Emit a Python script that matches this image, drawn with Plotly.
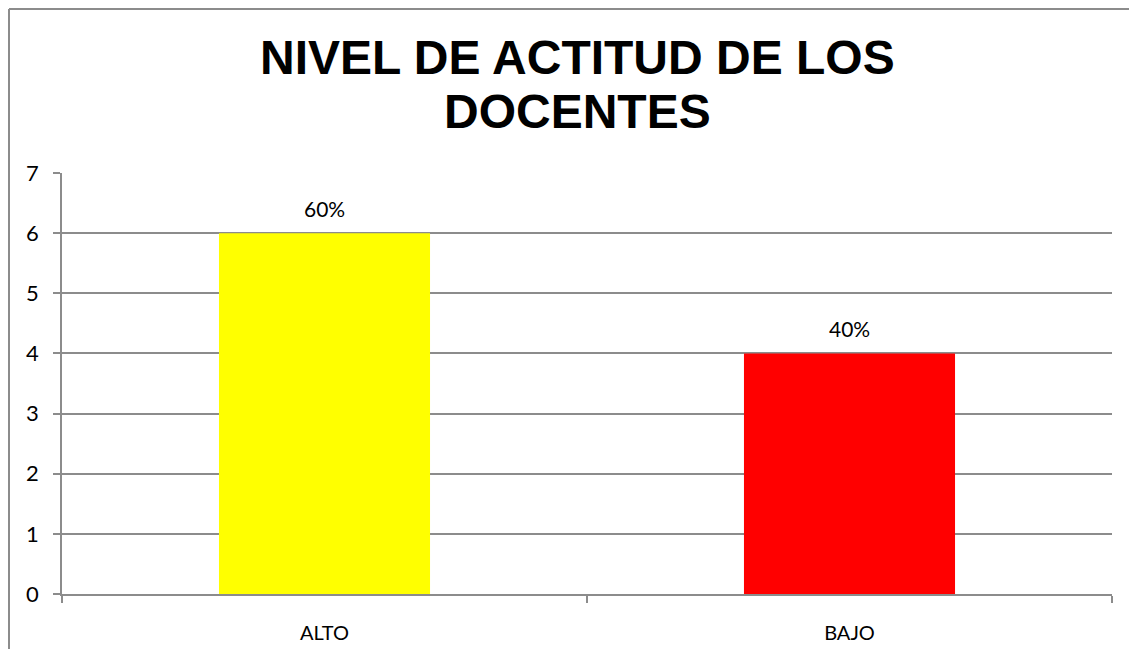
import plotly.graph_objects as go

categorias = ["ALTO", "BAJO"]
valores = [6, 4]
etiquetas = ["60%", "40%"]
colores = ["#FFFF00", "#FF0000"]

# la pagina se dibuja con 8px de margen del body; se evita el scroll
OFF = 8
W, H = 1137 - 2 * OFF, 657 - 2 * OFF
ml, mt = 62 - OFF, 173 - OFF
mr = W - (1112 - OFF)
mb = H - (594 - OFF)
pw, ph = W - ml - mr, H - mt - mb


def px_x(x):
    return (x - OFF - ml) / pw


def px_y(y):
    return (H - mb - (y - OFF)) / ph


fig = go.Figure()
fig.add_trace(go.Bar(
    x=categorias, y=valores, marker_color=colores, marker_line_width=0,
))

for cat, val, lab in zip(categorias, valores, etiquetas):
    fig.add_annotation(x=cat, y=val, text=lab, showarrow=False, yanchor="bottom",
                       yshift=10, font=dict(family="Lato, Open Sans, sans-serif", size=21, color="black"))

# recuadro del grafico: solo se ven el borde izquierdo y el superior
borde = dict(color="#8c8c8c", width=2)
fig.add_shape(type="line", xref="paper", yref="paper",
              x0=px_x(9), x1=px_x(9), y0=px_y(657), y1=px_y(9), line=borde, layer="below")
fig.add_shape(type="line", xref="paper", yref="paper",
              x0=px_x(9), x1=px_x(1137), y0=px_y(9), y1=px_y(9), line=borde, layer="below")

fig.add_annotation(text="<b>NIVEL DE ACTITUD DE LOS</b>", xref="paper", yref="paper",
                   x=px_x(577), y=px_y(58), showarrow=False, xanchor="center", yanchor="middle",
                   font=dict(family="Liberation Sans, Arial", size=48, color="black"))
fig.add_annotation(text="<b>DOCENTES</b>", xref="paper", yref="paper",
                   x=px_x(577), y=px_y(112), showarrow=False, xanchor="center", yanchor="middle",
                   font=dict(family="Liberation Sans, Arial", size=48, color="black"))

fig.update_layout(
    width=W, height=H, margin=dict(l=ml, r=mr, t=mt, b=mb),
    plot_bgcolor="white", paper_bgcolor="white", showlegend=False,
    bargap=0.598,
    font=dict(family="Lato, Open Sans, sans-serif", size=21, color="black"),
)
fig.update_yaxes(range=[0, 7], dtick=1, showgrid=True, gridcolor="#8c8c8c", gridwidth=1.5,
                 showline=True, linecolor="#8c8c8c", linewidth=1.5,
                 ticks="outside", ticklen=7, tickcolor="#8c8c8c", tickwidth=1.5,
                 ticklabelstandoff=10, zeroline=False, tickfont=dict(size=22), automargin=False)
fig.update_xaxes(showline=True, linecolor="#8c8c8c", linewidth=1.5,
                 ticks="outside", tickson="boundaries", ticklen=7, tickcolor="#8c8c8c",
                 tickwidth=1.5, ticklabelstandoff=20, tickfont=dict(size=20), automargin=False)

fig.write_html("out.html")
